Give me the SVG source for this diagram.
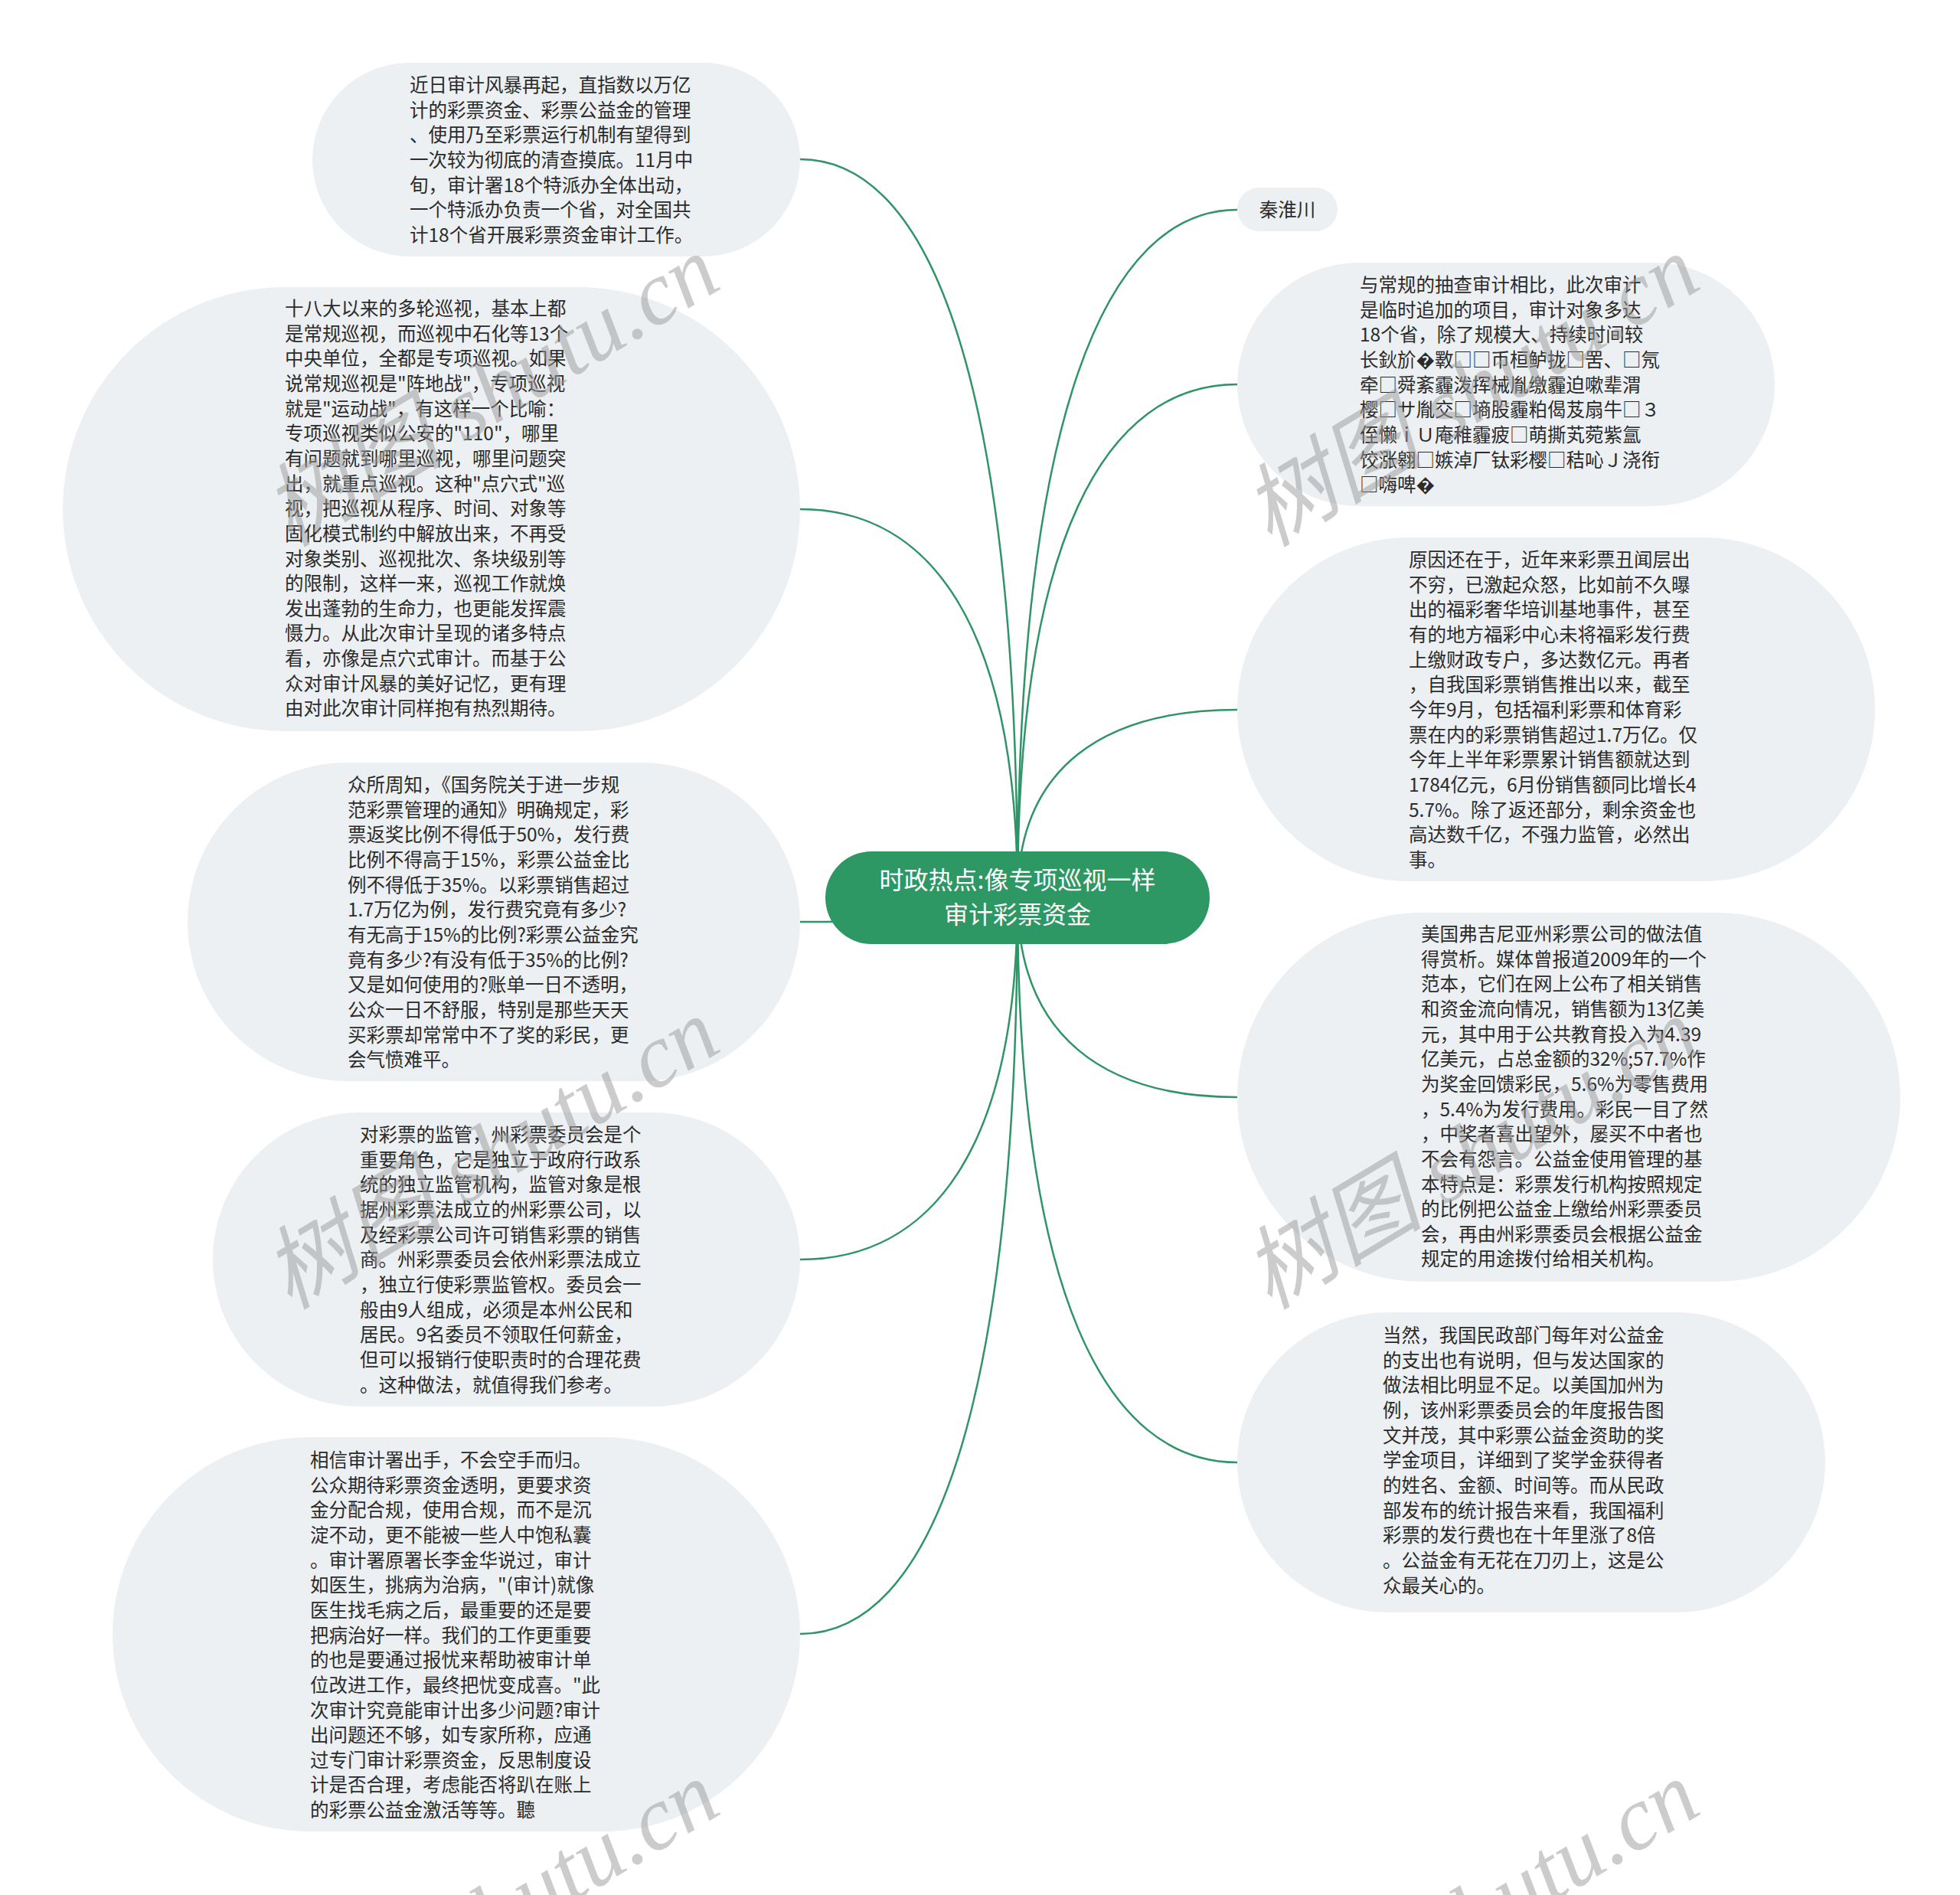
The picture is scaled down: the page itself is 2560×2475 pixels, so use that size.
<svg xmlns="http://www.w3.org/2000/svg" width="2560" height="2475" viewBox="0 0 2560 2475">
<style>
.bg{fill:#ffffff}
.node{fill:#edf0f3}
.root{fill:#2d9864}
.t{font-family:"Noto Sans CJK SC","Noto Sans",sans-serif;font-size:24.5px;fill:#2b2b2b}
.rt{font-family:"Noto Sans CJK SC","Noto Sans",sans-serif;font-size:32px;fill:#ffffff;text-anchor:middle}
.edge{fill:none;stroke:#2f9466;stroke-width:2.5}
.wm{font-family:"Liberation Serif","Noto Sans CJK SC",serif;font-style:italic;font-size:118px;fill:#9a9a9a;opacity:0.5;text-anchor:middle}
</style>
<rect class="bg" x="0" y="0" width="2560" height="2475"/>
<g id="connectors">
<path class="edge" d="M1329 1172 C1329 497 1215 208 1045 208"/>
<path class="edge" d="M1329 1172 C1329 817 1215 665 1045 665"/>
<path class="edge" d="M1329 1172 C1329 1194 1215 1204 1045 1204"/>
<path class="edge" d="M1329 1172 C1329 1503 1215 1645 1045 1645"/>
<path class="edge" d="M1329 1172 C1329 1845 1215 2134 1045 2134"/>
<path class="edge" d="M1329 1172 C1329 543 1444 274 1616 274"/>
<path class="edge" d="M1329 1172 C1329 703 1444 502 1616 502"/>
<path class="edge" d="M1329 1172 C1329 1000 1444 927 1616 927"/>
<path class="edge" d="M1329 1172 C1329 1355 1444 1433 1616 1433"/>
<path class="edge" d="M1329 1172 C1329 1689 1444 1910 1616 1910"/>
</g>
<g id="root">
<rect class="root" x="1078" y="1112" width="502" height="121" rx="60.5"/>
<text class="rt" x="1329" y="1161">时政热点:像专项巡视一样</text>
<text class="rt" x="1329" y="1206">审计彩票资金</text>
</g>
<g id="node-l1">
<rect class="node" x="408" y="82" width="637" height="253" rx="126.5"/>
<text class="t" x="535" y="120"><tspan x="535">近日审计风暴再起，直指数以万亿</tspan><tspan x="535" dy="32.65">计的彩票资金、彩票公益金的管理</tspan><tspan x="535" dy="32.65">、使用乃至彩票运行机制有望得到</tspan><tspan x="535" dy="32.65">一次较为彻底的清查摸底。11月中</tspan><tspan x="535" dy="32.65">旬，审计署18个特派办全体出动，</tspan><tspan x="535" dy="32.65">一个特派办负责一个省，对全国共</tspan><tspan x="535" dy="32.65">计18个省开展彩票资金审计工作。</tspan></text>
</g>
<g id="node-l2">
<rect class="node" x="82" y="375" width="963" height="580" rx="290"/>
<text class="t" x="372" y="412"><tspan x="372">十八大以来的多轮巡视，基本上都</tspan><tspan x="372" dy="32.65">是常规巡视，而巡视中石化等13个</tspan><tspan x="372" dy="32.65">中央单位，全都是专项巡视。如果</tspan><tspan x="372" dy="32.65">说常规巡视是"阵地战"，专项巡视</tspan><tspan x="372" dy="32.65">就是"运动战"，有这样一个比喻：</tspan><tspan x="372" dy="32.65">专项巡视类似公安的"110"，哪里</tspan><tspan x="372" dy="32.65">有问题就到哪里巡视，哪里问题突</tspan><tspan x="372" dy="32.65">出，就重点巡视。这种"点穴式"巡</tspan><tspan x="372" dy="32.65">视，把巡视从程序、时间、对象等</tspan><tspan x="372" dy="32.65">固化模式制约中解放出来，不再受</tspan><tspan x="372" dy="32.65">对象类别、巡视批次、条块级别等</tspan><tspan x="372" dy="32.65">的限制，这样一来，巡视工作就焕</tspan><tspan x="372" dy="32.65">发出蓬勃的生命力，也更能发挥震</tspan><tspan x="372" dy="32.65">慑力。从此次审计呈现的诸多特点</tspan><tspan x="372" dy="32.65">看，亦像是点穴式审计。而基于公</tspan><tspan x="372" dy="32.65">众对审计风暴的美好记忆，更有理</tspan><tspan x="372" dy="32.65">由对此次审计同样抱有热烈期待。</tspan></text>
</g>
<g id="node-l3">
<rect class="node" x="245" y="996" width="800" height="416" rx="208"/>
<text class="t" x="454" y="1034"><tspan x="454">众所周知，《国务院关于进一步规</tspan><tspan x="454" dy="32.65">范彩票管理的通知》明确规定，彩</tspan><tspan x="454" dy="32.65">票返奖比例不得低于50%，发行费</tspan><tspan x="454" dy="32.65">比例不得高于15%，彩票公益金比</tspan><tspan x="454" dy="32.65">例不得低于35%。以彩票销售超过</tspan><tspan x="454" dy="32.65">1.7万亿为例，发行费究竟有多少?</tspan><tspan x="454" dy="32.65">有无高于15%的比例?彩票公益金究</tspan><tspan x="454" dy="32.65">竟有多少?有没有低于35%的比例?</tspan><tspan x="454" dy="32.65">又是如何使用的?账单一日不透明，</tspan><tspan x="454" dy="32.65">公众一日不舒服，特别是那些天天</tspan><tspan x="454" dy="32.65">买彩票却常常中不了奖的彩民，更</tspan><tspan x="454" dy="32.65">会气愤难平。</tspan></text>
</g>
<g id="node-l4">
<rect class="node" x="278" y="1453" width="767" height="384" rx="192"/>
<text class="t" x="470" y="1491"><tspan x="470">对彩票的监管，州彩票委员会是个</tspan><tspan x="470" dy="32.65">重要角色，它是独立于政府行政系</tspan><tspan x="470" dy="32.65">统的独立监管机构，监管对象是根</tspan><tspan x="470" dy="32.65">据州彩票法成立的州彩票公司，以</tspan><tspan x="470" dy="32.65">及经彩票公司许可销售彩票的销售</tspan><tspan x="470" dy="32.65">商。州彩票委员会依州彩票法成立</tspan><tspan x="470" dy="32.65">，独立行使彩票监管权。委员会一</tspan><tspan x="470" dy="32.65">般由9人组成，必须是本州公民和</tspan><tspan x="470" dy="32.65">居民。9名委员不领取任何薪金，</tspan><tspan x="470" dy="32.65">但可以报销行使职责时的合理花费</tspan><tspan x="470" dy="32.65">。这种做法，就值得我们参考。</tspan></text>
</g>
<g id="node-l5">
<rect class="node" x="147" y="1877" width="898" height="515" rx="257.5"/>
<text class="t" x="405" y="1916"><tspan x="405">相信审计署出手，不会空手而归。</tspan><tspan x="405" dy="32.65">公众期待彩票资金透明，更要求资</tspan><tspan x="405" dy="32.65">金分配合规，使用合规，而不是沉</tspan><tspan x="405" dy="32.65">淀不动，更不能被一些人中饱私囊</tspan><tspan x="405" dy="32.65">。审计署原署长李金华说过，审计</tspan><tspan x="405" dy="32.65">如医生，挑病为治病，"(审计)就像</tspan><tspan x="405" dy="32.65">医生找毛病之后，最重要的还是要</tspan><tspan x="405" dy="32.65">把病治好一样。我们的工作更重要</tspan><tspan x="405" dy="32.65">的也是要通过报忧来帮助被审计单</tspan><tspan x="405" dy="32.65">位改进工作，最终把忧变成喜。"此</tspan><tspan x="405" dy="32.65">次审计究竟能审计出多少问题?审计</tspan><tspan x="405" dy="32.65">出问题还不够，如专家所称，应通</tspan><tspan x="405" dy="32.65">过专门审计彩票资金，反思制度设</tspan><tspan x="405" dy="32.65">计是否合理，考虑能否将趴在账上</tspan><tspan x="405" dy="32.65">的彩票公益金激活等等。聽</tspan></text>
</g>
<g id="node-r1">
<rect class="node" x="1616" y="245" width="131" height="57" rx="28.5"/>
<text class="t" x="1681.5" y="283" text-anchor="middle">秦淮川</text>
</g>
<g id="node-r2">
<rect class="node" x="1616" y="343" width="702" height="318" rx="159"/>
<text class="t" x="1776" y="381"><tspan x="1776">与常规的抽查审计相比，此次审计</tspan><tspan x="1776" dy="32.65">是临时追加的项目，审计对象多达</tspan><tspan x="1776" dy="32.65">18个省，除了规模大、持续时间较</tspan><tspan x="1776" dy="32.65">长鈥斺�斁□□币桓鲈拢□罟、□氖</tspan><tspan x="1776" dy="32.65">牵□舜紊霾泼挥械胤缴霾迫嗽辈渭</tspan><tspan x="1776" dy="32.65">樱□サ胤交□墒股霾粕偈芨扇牛□３</tspan><tspan x="1776" dy="32.65">侄懒ⅰＵ庵稚霾疲□萌撕芄菀紫氲</tspan><tspan x="1776" dy="32.65">饺涨翱□嫉淖厂钛彩樱□秸吣Ｊ浇衔</tspan><tspan x="1776" dy="32.65">□嗨啤�</tspan></text>
</g>
<g id="node-r3">
<rect class="node" x="1616" y="702" width="833" height="449" rx="224.5"/>
<text class="t" x="1840" y="740"><tspan x="1840">原因还在于，近年来彩票丑闻层出</tspan><tspan x="1840" dy="32.65">不穷，已激起众怒，比如前不久曝</tspan><tspan x="1840" dy="32.65">出的福彩奢华培训基地事件，甚至</tspan><tspan x="1840" dy="32.65">有的地方福彩中心未将福彩发行费</tspan><tspan x="1840" dy="32.65">上缴财政专户，多达数亿元。再者</tspan><tspan x="1840" dy="32.65">，自我国彩票销售推出以来，截至</tspan><tspan x="1840" dy="32.65">今年9月，包括福利彩票和体育彩</tspan><tspan x="1840" dy="32.65">票在内的彩票销售超过1.7万亿。仅</tspan><tspan x="1840" dy="32.65">今年上半年彩票累计销售额就达到</tspan><tspan x="1840" dy="32.65">1784亿元，6月份销售额同比增长4</tspan><tspan x="1840" dy="32.65">5.7%。除了返还部分，剩余资金也</tspan><tspan x="1840" dy="32.65">高达数千亿，不强力监管，必然出</tspan><tspan x="1840" dy="32.65">事。</tspan></text>
</g>
<g id="node-r4">
<rect class="node" x="1616" y="1192" width="866" height="482" rx="241"/>
<text class="t" x="1856" y="1229"><tspan x="1856">美国弗吉尼亚州彩票公司的做法值</tspan><tspan x="1856" dy="32.65">得赏析。媒体曾报道2009年的一个</tspan><tspan x="1856" dy="32.65">范本，它们在网上公布了相关销售</tspan><tspan x="1856" dy="32.65">和资金流向情况，销售额为13亿美</tspan><tspan x="1856" dy="32.65">元，其中用于公共教育投入为4.39</tspan><tspan x="1856" dy="32.65">亿美元，占总金额的32%;57.7%作</tspan><tspan x="1856" dy="32.65">为奖金回馈彩民，5.6%为零售费用</tspan><tspan x="1856" dy="32.65">，5.4%为发行费用。彩民一目了然</tspan><tspan x="1856" dy="32.65">，中奖者喜出望外，屡买不中者也</tspan><tspan x="1856" dy="32.65">不会有怨言。公益金使用管理的基</tspan><tspan x="1856" dy="32.65">本特点是：彩票发行机构按照规定</tspan><tspan x="1856" dy="32.65">的比例把公益金上缴给州彩票委员</tspan><tspan x="1856" dy="32.65">会，再由州彩票委员会根据公益金</tspan><tspan x="1856" dy="32.65">规定的用途拨付给相关机构。</tspan></text>
</g>
<g id="node-r5">
<rect class="node" x="1616" y="1714" width="768" height="392" rx="196"/>
<text class="t" x="1806" y="1753"><tspan x="1806">当然，我国民政部门每年对公益金</tspan><tspan x="1806" dy="32.65">的支出也有说明，但与发达国家的</tspan><tspan x="1806" dy="32.65">做法相比明显不足。以美国加州为</tspan><tspan x="1806" dy="32.65">例，该州彩票委员会的年度报告图</tspan><tspan x="1806" dy="32.65">文并茂，其中彩票公益金资助的奖</tspan><tspan x="1806" dy="32.65">学金项目，详细到了奖学金获得者</tspan><tspan x="1806" dy="32.65">的姓名、金额、时间等。而从民政</tspan><tspan x="1806" dy="32.65">部发布的统计报告来看，我国福利</tspan><tspan x="1806" dy="32.65">彩票的发行费也在十年里涨了8倍</tspan><tspan x="1806" dy="32.65">。公益金有无花在刀刃上，这是公</tspan><tspan x="1806" dy="32.65">众最关心的。</tspan></text>
</g>
<g id="watermarks">
<text class="wm" transform="translate(662 545) rotate(-31)">树图 shutu.cn</text>
<text class="wm" transform="translate(662 1541) rotate(-31)">树图 shutu.cn</text>
<text class="wm" transform="translate(662 2537) rotate(-31)">树图 shutu.cn</text>
<text class="wm" transform="translate(1942 545) rotate(-31)">树图 shutu.cn</text>
<text class="wm" transform="translate(1942 1541) rotate(-31)">树图 shutu.cn</text>
<text class="wm" transform="translate(1942 2537) rotate(-31)">树图 shutu.cn</text>
</g>
</svg>
